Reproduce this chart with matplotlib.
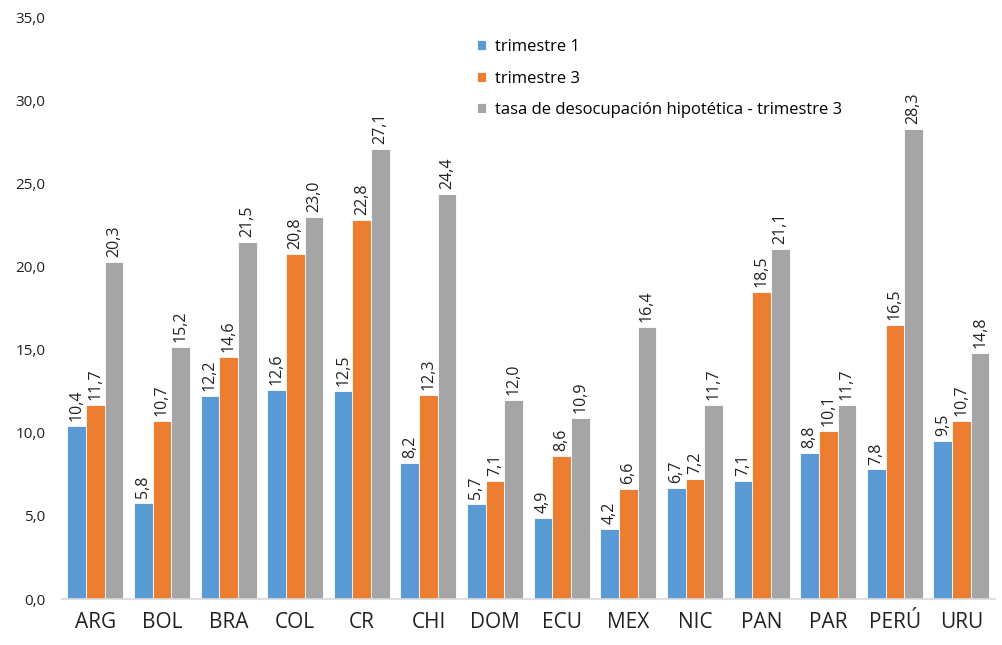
import matplotlib
matplotlib.use("Agg")
import matplotlib.pyplot as plt
import numpy as np

plt.rcParams['font.family'] = ['Open Sans', 'DejaVu Sans']

paises = ["ARG", "BOL", "BRA", "COL", "CR", "CHI", "DOM", "ECU", "MEX", "NIC", "PAN", "PAR", "PERÚ", "URU"]
trimestre_1 = [10.4, 5.8, 12.2, 12.6, 12.5, 8.2, 5.7, 4.9, 4.2, 6.7, 7.1, 8.8, 7.8, 9.5]
trimestre_3 = [11.7, 10.7, 14.6, 20.8, 22.8, 12.3, 7.1, 8.6, 6.6, 7.2, 18.5, 10.1, 16.5, 10.7]
tasa_hipotetica = [20.3, 15.2, 21.5, 23.0, 27.1, 24.4, 12.0, 10.9, 16.4, 11.7, 21.1, 11.7, 28.3, 14.8]
etiquetas_series = ["trimestre 1", "trimestre 3", "tasa de desocupación hipotética - trimestre 3"]
colores = ["#5B9BD5", "#ED7D31", "#A5A5A5"]

fig = plt.figure(figsize=(10.03, 6.45), dpi=100)
ax = fig.add_axes([0.0618, 0.0713, 0.930, 0.901])

x = np.arange(len(paises))
w = 0.28
series = [trimestre_1, trimestre_3, tasa_hipotetica]
for i, (vals, lab, col) in enumerate(zip(series, etiquetas_series, colores)):
    pos = x + (i - 1) * w
    ax.bar(pos, vals, width=w, color=col, label=lab, edgecolor="white", linewidth=0.6)
    for xp, v in zip(pos, vals):
        ax.text(xp, v + 0.3, f"{v:.1f}".replace(".", ","), rotation=90,
                ha="center", va="bottom", fontsize=11.5, color="#222222")

ax.set_xlim(-0.5, len(paises) - 0.5)
ax.set_ylim(0, 35)
ax.set_yticks(np.arange(0, 36, 5))
ax.set_yticklabels([f"{t:.1f}".replace(".", ",") for t in np.arange(0, 36, 5)], fontsize=11, color="#222222")
ax.set_xticks(x)
ax.set_xticklabels(paises, fontsize=15, color="#222222")
ax.tick_params(axis="both", length=0)
ax.tick_params(axis="x", pad=9)
ax.tick_params(axis="y", pad=12)
for s in ["top", "right", "left"]:
    ax.spines[s].set_visible(False)
ax.spines["bottom"].set_color("#D9D9D9")
ax.spines["bottom"].set_linewidth(1.2)

ax.legend(loc="upper left", bbox_to_anchor=(0.429, 0.99), frameon=False, fontsize=12,
          handlelength=0.55, handleheight=0.55, handletextpad=0.5, labelspacing=0.95)

fig.savefig("out.png", dpi=100)
